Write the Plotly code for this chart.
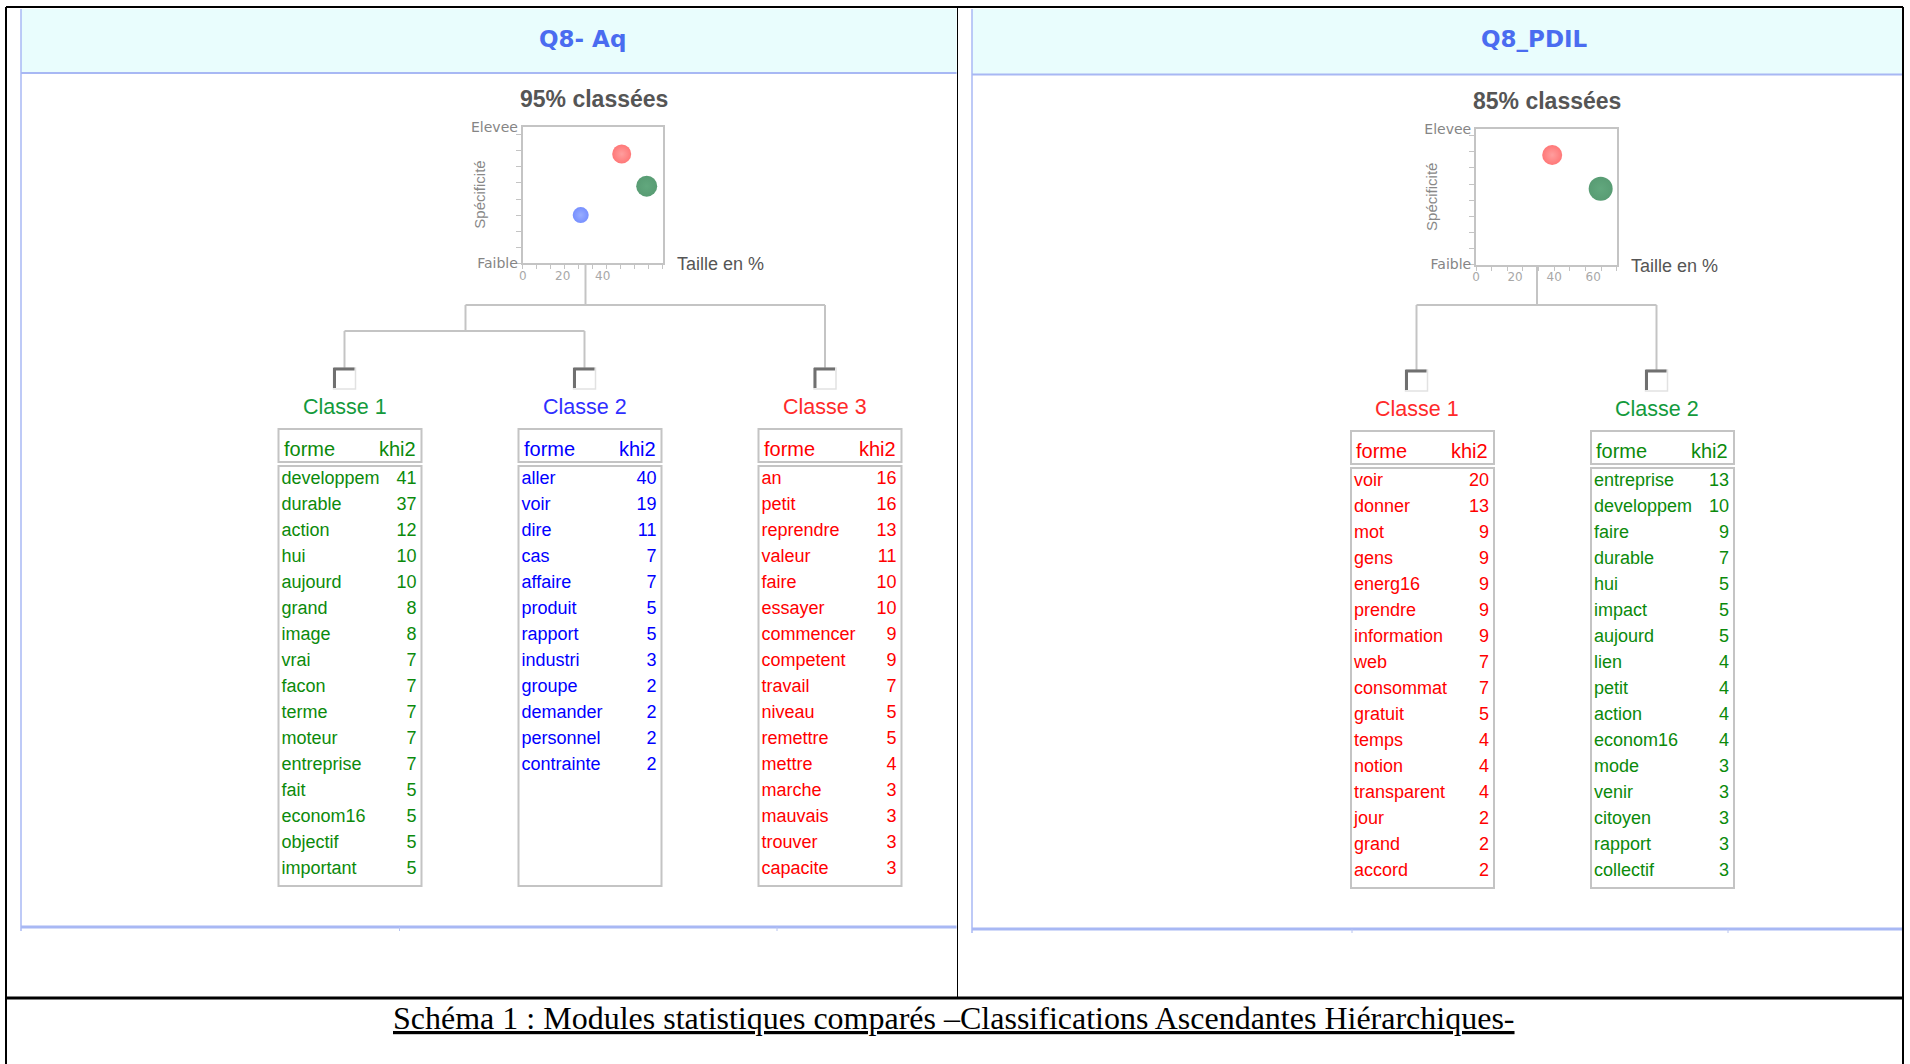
import plotly.graph_objects as go

W, H = 1910, 1064

# ---- données ----
panel_titles = ["Q8- Aq", "Q8_PDIL"]
pct_classees = ["95% classées", "85% classées"]

# graphe taille / spécificité (Q8- Aq : classes 1, 2, 3)
aq_taille = [62, 29, 49.5]
aq_specif = [4.8, 3.0, 6.8]
# Q8_PDIL : classes 1, 2
pdil_taille = [39, 63.8]
pdil_specif = [6.8, 4.7]

aq_c1_forme = ["developpem", "durable", "action", "hui", "aujourd", "grand", "image", "vrai",
               "facon", "terme", "moteur", "entreprise", "fait", "econom16", "objectif", "important"]
aq_c1_khi2 = [41, 37, 12, 10, 10, 8, 8, 7, 7, 7, 7, 7, 5, 5, 5, 5]
aq_c2_forme = ["aller", "voir", "dire", "cas", "affaire", "produit", "rapport", "industri",
               "groupe", "demander", "personnel", "contrainte"]
aq_c2_khi2 = [40, 19, 11, 7, 7, 5, 5, 3, 2, 2, 2, 2]
aq_c3_forme = ["an", "petit", "reprendre", "valeur", "faire", "essayer", "commencer", "competent",
               "travail", "niveau", "remettre", "mettre", "marche", "mauvais", "trouver", "capacite"]
aq_c3_khi2 = [16, 16, 13, 11, 10, 10, 9, 9, 7, 5, 5, 4, 3, 3, 3, 3]

pdil_c1_forme = ["voir", "donner", "mot", "gens", "energ16", "prendre", "information", "web",
                 "consommat", "gratuit", "temps", "notion", "transparent", "jour", "grand", "accord"]
pdil_c1_khi2 = [20, 13, 9, 9, 9, 9, 9, 7, 7, 5, 4, 4, 4, 2, 2, 2]
pdil_c2_forme = ["entreprise", "developpem", "faire", "durable", "hui", "impact", "aujourd", "lien",
                 "petit", "action", "econom16", "mode", "venir", "citoyen", "rapport", "collectif"]
pdil_c2_khi2 = [13, 10, 9, 7, 5, 5, 5, 4, 4, 4, 4, 3, 3, 3, 3, 3]

caption = "Schéma 1 : Modules statistiques comparés –Classifications Ascendantes Hiérarchiques-"

GREEN, BLUE, RED = "#0B8A0B", "#0000FF", "#FF0000"
LBL_GREEN, LBL_BLUE, LBL_RED = "#139A3C", "#2F2FFF", "#FF2A2A"
DOT_GREEN, DOT_BLUE, DOT_RED = "#117238", "#3D60FF", "#FF3E3E"
GRAY_LINE = "#C4C4C4"
PANEL_LINE = "#A8B8F4"
TXT_FONT = "Liberation Sans"

fig = go.Figure()
shapes, annots = [], []


def line(x0, y0, x1, y1, color=GRAY_LINE, width=2):
    shapes.append(dict(type="line", xref="x", yref="y", x0=x0, y0=y0, x1=x1, y1=y1,
                       line=dict(color=color, width=width)))


def rect(x0, y0, x1, y1, color=GRAY_LINE, width=2, fill=None):
    shapes.append(dict(type="rect", xref="x", yref="y", x0=x0, y0=y0, x1=x1, y1=y1,
                       line=dict(color=color, width=width),
                       fillcolor=fill or "rgba(0,0,0,0)", layer="below"))


def text(x, y, s, size, color, family=TXT_FONT, xanchor="center", bold=False, angle=0):
    annots.append(dict(xref="x", yref="y", x=x, y=y, text=f"<b>{s}</b>" if bold else s,
                       showarrow=False, xanchor=xanchor, yanchor="middle", textangle=angle,
                       font=dict(family=family, size=size, color=color)))


# ---- cadre du document ----
line(6, 7, 1903, 7, "black", 2)
line(6, 7, 6, H, "black", 2)
line(1903, 7, 1903, H, "black", 2)
line(957.5, 7, 957.5, 998, "black", 1)
line(6, 998, 1903, 998, "black", 3)
text(954, 1018, f"<u>{caption}</u>", 32, "black", family="Liberation Serif")

# ---- panneaux ----
panels = [dict(x0=21, x1=956.5, hb=73, bot=927, tx=582, ticks=[399.5, 777]),
          dict(x0=972, x1=1902, hb=74.5, bot=929, tx=1534, ticks=[1352, 1728])]
for p, title in zip(panels, panel_titles):
    rect(p["x0"], 9, p["x1"], p["hb"], color="rgba(0,0,0,0)", width=0, fill="#E9FDFD")
    line(p["x0"], p["hb"], p["x1"], p["hb"], PANEL_LINE, 2)
    line(p["x0"], 9, p["x0"], p["bot"] + 4, PANEL_LINE, 1.5)
    line(p["x0"], p["bot"], p["x1"], p["bot"], PANEL_LINE, 3)
    for tx in p["ticks"]:
        line(tx, p["bot"], tx, p["bot"] + 4, "#B8C4F0", 1)
    text(p["tx"], 39, title, 23, "#4A6CF0", family="DejaVu Sans", bold=True)

text(594, 99, pct_classees[0], 23, "#555555", bold=True)
text(1547, 101, pct_classees[1], 23, "#555555", bold=True)

# ---- mini graphes taille / spécificité ----
boxes = [dict(x0=522.7, x1=662.7, y0=126.7, y1=263.3, xr=70, xd=7, yr=8.5, tv=[0, 20, 40]),
         dict(x0=1476, x1=1616.7, y0=129.3, y1=264.5, xr=72, xd=8, yr=8.4, tv=[0, 20, 40, 60])]
for i, b in enumerate(boxes, start=2):
    ax = dict(domain=[b["x0"] / W, b["x1"] / W], range=[0, b["xr"]], anchor=f"y{i}",
              showline=True, mirror=True, linecolor=GRAY_LINE, linewidth=2, automargin=False,
              showgrid=False, zeroline=False, tickmode="array", tickvals=b["tv"], ticks="",
              tickfont=dict(family="DejaVu Sans", size=12, color="#A8A8A8"), fixedrange=True,
              minor=dict(tickmode="linear", tick0=0, dtick=b["xd"], ticks="outside",
                         ticklen=4, tickcolor=GRAY_LINE, showgrid=False))
    ay = dict(domain=[1 - b["y1"] / H, 1 - b["y0"] / H], range=[0, b["yr"]], anchor=f"x{i}",
              showline=True, mirror=True, linecolor=GRAY_LINE, linewidth=2, automargin=False,
              showgrid=False, zeroline=False, tickmode="array", tickvals=[0, b["yr"]],
              ticktext=["Faible", "Elevee"], ticks="",
              tickfont=dict(family="DejaVu Sans", size=14, color="#858585"), fixedrange=True,
              minor=dict(tickmode="linear", tick0=0, dtick=1, ticks="outside",
                         ticklen=5, tickcolor=GRAY_LINE, showgrid=False))
    fig.update_layout(**{f"xaxis{i}": ax, f"yaxis{i}": ay})
    text(b["x0"] - 44, (b["y0"] + b["y1"]) / 2, "Spécificité", 15, "#888888", angle=-90)
    text(b["x1"] + 12, b["y1"] + 1, "Taille en %", 18, "#555555", xanchor="left")

fig.add_trace(go.Scatter(
    x=aq_taille, y=aq_specif, mode="markers", xaxis="x2", yaxis="y2", hoverinfo="skip",
    marker=dict(size=[21, 16, 19], color=[DOT_GREEN, DOT_BLUE, DOT_RED], line_width=0,
                gradient=dict(type="radial", color=["#1E8246", "#6C8AFF", "#FF7474"]))))
fig.add_trace(go.Scatter(
    x=pdil_taille, y=pdil_specif, mode="markers", xaxis="x3", yaxis="y3", hoverinfo="skip",
    marker=dict(size=[20, 24], color=[DOT_RED, DOT_GREEN], line_width=0,
                gradient=dict(type="radial", color=["#FF7474", "#1E8246"]))))

# ---- dendrogrammes ----
line(585.5, 264, 585.5, 305)
line(465.5, 305, 825, 305)
line(465.5, 305, 465.5, 331)
line(344.5, 331, 584.5, 331)
for lx, ly in [(344.5, 331), (584.5, 331), (825, 305)]:
    line(lx, ly, lx, 368)
line(1537, 265.5, 1537, 305)
line(1416.5, 305, 1656.5, 305)
for lx in [1416.5, 1656.5]:
    line(lx, 305, lx, 370)


def checkbox(cx, top):
    rect(cx - 11, top, cx + 11, top + 21, color="#E2E2E2", width=1.5, fill="white")
    line(cx - 11, top + 1, cx + 10, top + 1, "#707070", 3)
    line(cx - 10, top, cx - 10, top + 20, "#707070", 3)


# ---- tables de classes ----
tables = [
    dict(cx=344.5, left=278.5, top=368, name="Classe 1", lc=LBL_GREEN, c=GREEN, f=aq_c1_forme, k=aq_c1_khi2),
    dict(cx=584.5, left=518.5, top=368, name="Classe 2", lc=LBL_BLUE, c=BLUE, f=aq_c2_forme, k=aq_c2_khi2),
    dict(cx=825, left=758.5, top=368, name="Classe 3", lc=LBL_RED, c=RED, f=aq_c3_forme, k=aq_c3_khi2),
    dict(cx=1416.5, left=1351, top=370, name="Classe 1", lc=LBL_RED, c=RED, f=pdil_c1_forme, k=pdil_c1_khi2),
    dict(cx=1656.5, left=1591, top=370, name="Classe 2", lc=LBL_GREEN, c=GREEN, f=pdil_c2_forme, k=pdil_c2_khi2),
]
TW, ROW = 143, 26.05
for t in tables:
    top, left, right = t["top"], t["left"], t["left"] + TW
    checkbox(t["cx"], top)
    text(t["cx"], top + 38.5, t["name"], 21.5, t["lc"])
    rect(left, top + 61, right, top + 94)
    rect(left, top + 98, right, top + 518)
    text(left + 3, top + 81, "forme", 20, t["c"], xanchor="left")
    text(right - 4, top + 81, "khi2", 20, t["c"], xanchor="right")
    ys = [top + 111 + ROW * i for i in range(len(t["f"]))]
    fig.add_trace(go.Scatter(x=[left + 3] * len(ys), y=ys, text=t["f"], mode="text",
                             textposition="middle right", hoverinfo="skip",
                             textfont=dict(family=TXT_FONT, size=18, color=t["c"])))
    fig.add_trace(go.Scatter(x=[right - 5] * len(ys), y=ys, text=[str(v) for v in t["k"]],
                             mode="text", textposition="middle left", hoverinfo="skip",
                             textfont=dict(family=TXT_FONT, size=18, color=t["c"])))

fig.update_layout(
    width=W, height=H, margin=dict(l=0, r=0, t=0, b=0, pad=0), autosize=False,
    paper_bgcolor="white", plot_bgcolor="rgba(0,0,0,0)", showlegend=False,
    xaxis=dict(range=[0, W], domain=[0, 1], visible=False, fixedrange=True, automargin=False),
    yaxis=dict(range=[H, 0], domain=[0, 1], visible=False, fixedrange=True, automargin=False),
    shapes=shapes, annotations=annots,
)
# la page HTML a une marge de 8 px par défaut : on la retire
fig.write_html("out.html", config={"displayModeBar": False},
               post_script="document.body.style.margin='0px';")
